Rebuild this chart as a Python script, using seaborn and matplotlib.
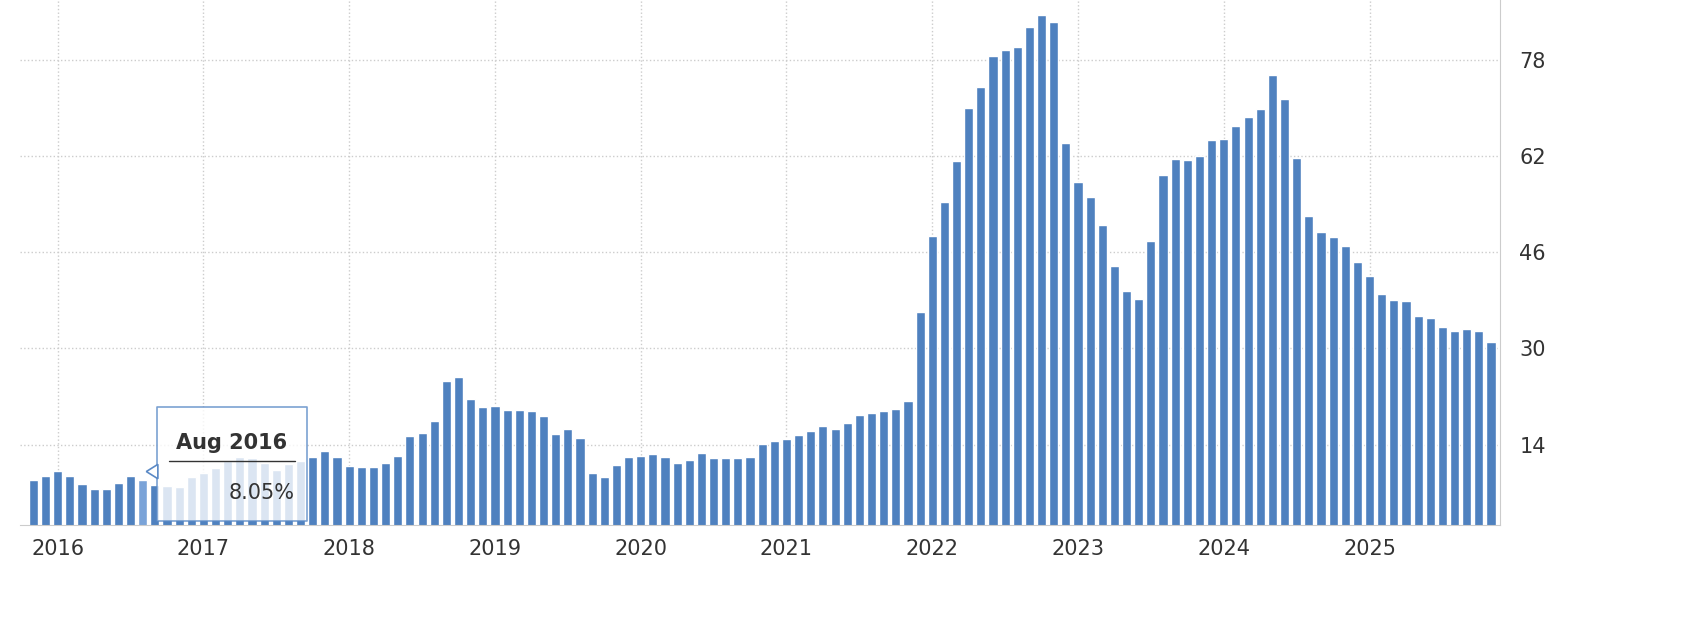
import seaborn as sns
import matplotlib.pyplot as plt
import pandas as pd

# monthly inflation rate, Nov 2015 .. Nov 2025
months = pd.date_range('2015-11-01', '2025-11-01', freq='MS')
values = [8.10, 8.81,
          9.58, 8.78, 7.46, 6.57, 6.58, 7.64, 8.79, 8.05, 7.28, 7.16, 7.00, 8.53,
          9.22, 10.13, 11.29, 11.87, 11.72, 10.90, 9.79, 10.68, 11.20, 11.90, 12.98, 11.92,
          10.35, 10.26, 10.23, 10.85, 12.15, 15.39, 15.85, 17.90, 24.52, 25.24, 21.62, 20.30,
          20.35, 19.67, 19.71, 19.50, 18.71, 15.72, 16.65, 15.01, 9.26, 8.55, 10.56, 11.84,
          12.15, 12.37, 11.86, 10.94, 11.39, 12.62, 11.76, 11.77, 11.75, 11.89, 14.03, 14.60,
          14.97, 15.61, 16.19, 17.14, 16.59, 17.53, 18.95, 19.25, 19.58, 19.89, 21.31, 36.08,
          48.69, 54.44, 61.14, 69.97, 73.50, 78.62, 79.60, 80.21, 83.45, 85.51, 84.39, 64.27,
          57.68, 55.18, 50.51, 43.68, 39.59, 38.21, 47.83, 58.94, 61.53, 61.36, 61.98, 64.77,
          64.86, 67.07, 68.50, 69.80, 75.45, 71.60, 61.78, 51.97, 49.38, 48.58, 47.09, 44.38,
          42.12, 39.05, 38.10, 37.86, 35.41, 35.05, 33.52, 32.95, 33.29, 32.87, 31.07]
yticks = [14, 30, 46, 62, 78]
hover = '2016-08'

df = pd.DataFrame({'month': months.strftime('%Y-%m'), 'value': values})
colors = ['#7aa3d8' if m == hover else '#4f81bf' for m in df['month']]

sns.set_style('white')
fig = plt.figure(figsize=(17.02, 6.22), dpi=100)
ax = fig.add_axes([20/1702, 97/622, 1480/1702, 525/622])
sns.barplot(data=df, x='month', y='value', hue='month', palette=colors,
            legend=False, width=0.75, ax=ax, saturation=1, zorder=2)

ax.set_xlim(-1.1, len(values) - 0.26)
ax.set_ylim(0.6, 88)
ax.yaxis.tick_right()
ax.set_yticks(yticks)
ax.set_yticklabels([str(t) for t in yticks], fontsize=15, color='#333333')
yr_idx = [i for i, m in enumerate(df['month']) if m.endswith('-01')]
ax.set_xticks(yr_idx)
ax.set_xticklabels([df['month'][i][:4] for i in yr_idx], fontsize=15, color='#333333')
ax.tick_params(axis='both', length=0, pad=10)
ax.tick_params(axis='y', pad=14)
ax.set_xlabel('')
ax.set_ylabel('')
ax.grid(True, linestyle=':', color='#cccccc', linewidth=1, zorder=0)
for s in ['top', 'left']:
    ax.spines[s].set_visible(False)
ax.spines['right'].set_color('#cccccc')
ax.spines['bottom'].set_color('#cccccc')

# tooltip
hi = list(df['month']).index(hover)
x0, x1 = hi + 1.2, hi + 13.5
ax.fill_between([x0, x1], 1.2, 20.2, color='white', alpha=0.8,
                ec='#5b8ac6', lw=1.2, zorder=5)
ax.fill([hi + 0.3, x0 + 0.05, x0 + 0.05], [9.5, 8.3, 10.7], color='white',
        ec='#5b8ac6', lw=1.2, zorder=6)
ax.text(hi + 7.35, 14.3, 'Aug 2016', fontsize=15, fontweight='bold', color='#333333',
        ha='center', va='center', zorder=7)
ax.plot([hi + 2.2, hi + 12.5], [11.2, 11.2], color='#333333', lw=1, zorder=7)
ax.text(hi + 12.5, 6.0, '8.05%', fontsize=15, color='#333333',
        ha='right', va='center', zorder=7)

fig.savefig('out.png')
